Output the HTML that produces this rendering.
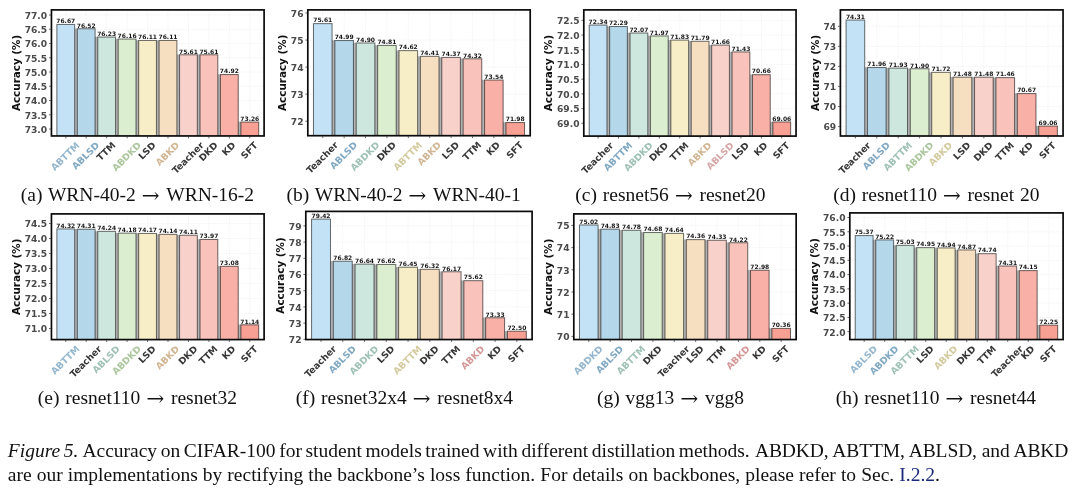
<!DOCTYPE html>
<html><head><meta charset="utf-8"><title>Figure 5</title>
<style>
html,body{margin:0;padding:0;background:#fff;}
body{width:1080px;height:489px;position:relative;overflow:hidden;font-family:"Liberation Serif","DejaVu Serif",serif;color:#111;}
svg{position:absolute;left:0;top:0;filter:blur(0.45px);}
.cap,.fc{filter:blur(0.3px);}
svg text{font-family:"DejaVu Sans","Liberation Sans",sans-serif;font-weight:bold;}
.yt text{font-size:9.15px;text-anchor:end;fill:#4a4a4a;}
.vl text{font-size:6.0px;text-anchor:middle;fill:#161616;}
.xt text{font-size:9.2px;text-anchor:middle;}
.yl{font-size:10.4px;text-anchor:middle;fill:#111;}
.cap{position:absolute;font-size:19.5px;line-height:24px;white-space:nowrap;word-spacing:0.9px;}
.ar{font-family:"DejaVu Math TeX Gyre","DejaVu Serif",serif;display:inline-block;width:30.6px;word-spacing:0;text-align:center;font-size:19px;}
.fc{position:absolute;left:7.8px;white-space:nowrap;font-size:19.5px;line-height:24px;}
.fc i{font-style:italic;}
.fc a{color:#1a2a7a;text-decoration:none;}
</style></head><body>
<svg width="1080" height="489" viewBox="0 0 1080 489">
<g>
<clipPath id="cla"><rect x="51.45" y="9.9" width="212.65" height="126.05"/></clipPath>
<path d="M51.45 129H264.1M51.45 114.75H264.1M51.45 100.5H264.1M51.45 86.25H264.1M51.45 72H264.1M51.45 57.75H264.1M51.45 43.5H264.1M51.45 29.25H264.1M51.45 15H264.1M65.76 9.9V135.95M86.21 9.9V135.95M106.66 9.9V135.95M127.1 9.9V135.95M147.55 9.9V135.95M168 9.9V135.95M188.45 9.9V135.95M208.89 9.9V135.95M229.34 9.9V135.95M249.79 9.9V135.95" stroke="#b0b0b0" stroke-opacity="0.24" stroke-width="0.7" stroke-dasharray="1.2 1.2" fill="none"/>
<g clip-path="url(#cla)">
<path d="M74.46 28.54h3.06V140.95h-3.06zM94.9 36.84h3.06V140.95h-3.06zM115.35 38.84h3.06V140.95h-3.06zM135.8 40.27h3.06V140.95h-3.06zM156.25 40.27h3.06V140.95h-3.06zM176.69 54.58h3.06V140.95h-3.06zM197.14 54.58h3.06V140.95h-3.06zM217.59 74.33h3.06V140.95h-3.06zM238.03 121.84h3.06V140.95h-3.06z" fill="#b2b2b2"/>
<g stroke="#000" stroke-opacity="0.55" stroke-width="1.05">
<rect x="56.87" y="24.44" width="17.79" height="116.51" fill="#c4e2f5"/>
<rect x="77.32" y="28.74" width="17.79" height="112.21" fill="#b4d7ea"/>
<rect x="97.76" y="37.04" width="17.79" height="103.91" fill="#cde7de"/>
<rect x="118.21" y="39.04" width="17.79" height="101.91" fill="#dbefd0"/>
<rect x="138.66" y="40.47" width="17.79" height="100.48" fill="#f7eec8"/>
<rect x="159.1" y="40.47" width="17.79" height="100.48" fill="#f6dec0"/>
<rect x="179.55" y="54.78" width="17.79" height="86.17" fill="#f9d1cb"/>
<rect x="200" y="54.78" width="17.79" height="86.17" fill="#f9c2bb"/>
<rect x="220.45" y="74.53" width="17.79" height="66.42" fill="#f8b0a7"/>
<rect x="240.89" y="122.04" width="17.79" height="18.91" fill="#f7a093"/>
</g></g>
<path d="M50.75 129h-1.7M50.75 114.75h-1.7M50.75 100.5h-1.7M50.75 86.25h-1.7M50.75 72h-1.7M50.75 57.75h-1.7M50.75 43.5h-1.7M50.75 29.25h-1.7M50.75 15h-1.7M65.76 136.65v1.7M86.21 136.65v1.7M106.66 136.65v1.7M127.1 136.65v1.7M147.55 136.65v1.7M168 136.65v1.7M188.45 136.65v1.7M208.89 136.65v1.7M229.34 136.65v1.7M249.79 136.65v1.7" stroke="#444" stroke-width="0.8" fill="none"/>
<rect x="51.45" y="9.9" width="212.65" height="126.05" fill="none" stroke="#0a0a0a" stroke-width="1.7"/>
<g class="yt">
<text x="47.15" y="132.84">73.0</text>
<text x="47.15" y="118.59">73.5</text>
<text x="47.15" y="104.34">74.0</text>
<text x="47.15" y="90.09">74.5</text>
<text x="47.15" y="75.84">75.0</text>
<text x="47.15" y="61.59">75.5</text>
<text x="47.15" y="47.34">76.0</text>
<text x="47.15" y="33.09">76.5</text>
<text x="47.15" y="18.84">77.0</text>
</g>
<g class="vl">
<text x="65.76" y="23.24">76.67</text>
<text x="86.21" y="27.54">76.52</text>
<text x="106.66" y="35.84">76.23</text>
<text x="127.1" y="37.84">76.16</text>
<text x="147.55" y="39.27">76.11</text>
<text x="168" y="39.27">76.11</text>
<text x="188.45" y="53.58">75.61</text>
<text x="208.89" y="53.58">75.61</text>
<text x="229.34" y="73.33">74.92</text>
<text x="249.79" y="120.84">73.26</text>
</g>
<g class="xt">
<text transform="translate(65.76 156.95) rotate(-45)" y="2.39" fill="#95b7ce">ABTTM</text>
<text transform="translate(86.21 156.31) rotate(-45)" y="2.39" fill="#82a9c3">ABLSD</text>
<text transform="translate(106.66 151.95) rotate(-45)" y="2.39" fill="#383838">TTM</text>
<text transform="translate(127.1 157.12) rotate(-45)" y="2.39" fill="#acc79e">ABDKD</text>
<text transform="translate(147.55 151.32) rotate(-45)" y="2.39" fill="#383838">LSD</text>
<text transform="translate(168 154.42) rotate(-45)" y="2.39" fill="#d1b694">ABKD</text>
<text transform="translate(188.45 158.44) rotate(-45)" y="2.39" fill="#383838">Teacher</text>
<text transform="translate(208.89 152.12) rotate(-45)" y="2.39" fill="#383838">DKD</text>
<text transform="translate(229.34 149.42) rotate(-45)" y="2.39" fill="#383838">KD</text>
<text transform="translate(249.79 150.99) rotate(-45)" y="2.39" fill="#383838">SFT</text>
</g>
<text class="yl" transform="translate(20 72.92) rotate(-90)">Accuracy (%)</text>
</g>
<g>
<clipPath id="clb"><rect x="307.8" y="9.9" width="222.4" height="125.8"/></clipPath>
<path d="M307.8 121.2H530.2M307.8 94.15H530.2M307.8 67.1H530.2M307.8 40.05H530.2M307.8 13H530.2M322.77 9.9V135.7M344.15 9.9V135.7M365.54 9.9V135.7M386.92 9.9V135.7M408.31 9.9V135.7M429.69 9.9V135.7M451.08 9.9V135.7M472.46 9.9V135.7M493.85 9.9V135.7M515.23 9.9V135.7" stroke="#b0b0b0" stroke-opacity="0.24" stroke-width="0.7" stroke-dasharray="1.2 1.2" fill="none"/>
<g clip-path="url(#clb)">
<path d="M331.87 40.32h3.18V140.7h-3.18zM353.26 42.77h3.18V140.7h-3.18zM374.64 45.23h3.18V140.7h-3.18zM396.03 50.4h3.18V140.7h-3.18zM417.41 56.13h3.18V140.7h-3.18zM438.79 57.22h3.18V140.7h-3.18zM460.18 58.58h3.18V140.7h-3.18zM481.56 79.83h3.18V140.7h-3.18zM502.95 122.34h3.18V140.7h-3.18z" fill="#b2b2b2"/>
<g stroke="#000" stroke-opacity="0.55" stroke-width="1.05">
<rect x="313.47" y="23.63" width="18.6" height="117.07" fill="#c4e2f5"/>
<rect x="334.85" y="40.52" width="18.6" height="100.18" fill="#b4d7ea"/>
<rect x="356.24" y="42.97" width="18.6" height="97.73" fill="#cde7de"/>
<rect x="377.62" y="45.43" width="18.6" height="95.27" fill="#dbefd0"/>
<rect x="399.01" y="50.6" width="18.6" height="90.1" fill="#f7eec8"/>
<rect x="420.39" y="56.33" width="18.6" height="84.37" fill="#f6dec0"/>
<rect x="441.77" y="57.42" width="18.6" height="83.28" fill="#f9d1cb"/>
<rect x="463.16" y="58.78" width="18.6" height="81.92" fill="#f9c2bb"/>
<rect x="484.54" y="80.03" width="18.6" height="60.67" fill="#f8b0a7"/>
<rect x="505.93" y="122.54" width="18.6" height="18.16" fill="#f7a093"/>
</g></g>
<path d="M307.1 121.2h-1.7M307.1 94.15h-1.7M307.1 67.1h-1.7M307.1 40.05h-1.7M307.1 13h-1.7M322.77 136.4v1.7M344.15 136.4v1.7M365.54 136.4v1.7M386.92 136.4v1.7M408.31 136.4v1.7M429.69 136.4v1.7M451.08 136.4v1.7M472.46 136.4v1.7M493.85 136.4v1.7M515.23 136.4v1.7" stroke="#444" stroke-width="0.8" fill="none"/>
<rect x="307.8" y="9.9" width="222.4" height="125.8" fill="none" stroke="#0a0a0a" stroke-width="1.7"/>
<g class="yt">
<text x="303.5" y="125.04">72</text>
<text x="303.5" y="97.99">73</text>
<text x="303.5" y="70.94">74</text>
<text x="303.5" y="43.89">75</text>
<text x="303.5" y="16.84">76</text>
</g>
<g class="vl">
<text x="322.77" y="22.43">75.61</text>
<text x="344.15" y="39.32">74.99</text>
<text x="365.54" y="41.77">74.90</text>
<text x="386.92" y="44.23">74.81</text>
<text x="408.31" y="49.4">74.62</text>
<text x="429.69" y="55.13">74.41</text>
<text x="451.08" y="56.22">74.37</text>
<text x="472.46" y="57.58">74.32</text>
<text x="493.85" y="78.83">73.54</text>
<text x="515.23" y="121.34">71.98</text>
</g>
<g class="xt">
<text transform="translate(322.77 158.19) rotate(-45)" y="2.39" fill="#383838">Teacher</text>
<text transform="translate(344.15 156.06) rotate(-45)" y="2.39" fill="#82a9c3">ABLSD</text>
<text transform="translate(365.54 156.87) rotate(-45)" y="2.39" fill="#a0c1b5">ABDKD</text>
<text transform="translate(386.92 151.87) rotate(-45)" y="2.39" fill="#383838">DKD</text>
<text transform="translate(408.31 156.7) rotate(-45)" y="2.39" fill="#d3ca9f">ABTTM</text>
<text transform="translate(429.69 154.17) rotate(-45)" y="2.39" fill="#d1b694">ABKD</text>
<text transform="translate(451.08 151.07) rotate(-45)" y="2.39" fill="#383838">LSD</text>
<text transform="translate(472.46 151.7) rotate(-45)" y="2.39" fill="#383838">TTM</text>
<text transform="translate(493.85 149.17) rotate(-45)" y="2.39" fill="#383838">KD</text>
<text transform="translate(515.23 150.74) rotate(-45)" y="2.39" fill="#383838">SFT</text>
</g>
<text class="yl" transform="translate(286.2 72.8) rotate(-90)">Accuracy (%)</text>
</g>
<g>
<clipPath id="clc"><rect x="583.8" y="9.9" width="212.25" height="126.2"/></clipPath>
<path d="M583.8 123.3H796.05M583.8 108.59H796.05M583.8 93.88H796.05M583.8 79.16H796.05M583.8 64.44H796.05M583.8 49.73H796.05M583.8 35.02H796.05M583.8 20.3H796.05M598.09 9.9V136.1M618.49 9.9V136.1M638.9 9.9V136.1M659.31 9.9V136.1M679.72 9.9V136.1M700.13 9.9V136.1M720.54 9.9V136.1M740.95 9.9V136.1M761.36 9.9V136.1M781.76 9.9V136.1" stroke="#b0b0b0" stroke-opacity="0.24" stroke-width="0.7" stroke-dasharray="1.2 1.2" fill="none"/>
<g clip-path="url(#clc)">
<path d="M606.76 26.31h3.05V141.1h-3.05zM627.17 32.81h3.05V141.1h-3.05zM647.58 35.76h3.05V141.1h-3.05zM667.99 39.9h3.05V141.1h-3.05zM688.4 41.08h3.05V141.1h-3.05zM708.81 44.92h3.05V141.1h-3.05zM729.22 51.72h3.05V141.1h-3.05zM749.62 74.47h3.05V141.1h-3.05zM770.03 121.75h3.05V141.1h-3.05z" fill="#b2b2b2"/>
<g stroke="#000" stroke-opacity="0.55" stroke-width="1.05">
<rect x="589.21" y="25.03" width="17.76" height="116.07" fill="#c4e2f5"/>
<rect x="609.62" y="26.51" width="17.76" height="114.59" fill="#b4d7ea"/>
<rect x="630.03" y="33.01" width="17.76" height="108.09" fill="#cde7de"/>
<rect x="650.43" y="35.96" width="17.76" height="105.14" fill="#dbefd0"/>
<rect x="670.84" y="40.1" width="17.76" height="101" fill="#f7eec8"/>
<rect x="691.25" y="41.28" width="17.76" height="99.82" fill="#f6dec0"/>
<rect x="711.66" y="45.12" width="17.76" height="95.98" fill="#f9d1cb"/>
<rect x="732.07" y="51.92" width="17.76" height="89.18" fill="#f9c2bb"/>
<rect x="752.48" y="74.67" width="17.76" height="66.43" fill="#f8b0a7"/>
<rect x="772.89" y="121.95" width="17.76" height="19.15" fill="#f7a093"/>
</g></g>
<path d="M583.1 123.3h-1.7M583.1 108.59h-1.7M583.1 93.88h-1.7M583.1 79.16h-1.7M583.1 64.44h-1.7M583.1 49.73h-1.7M583.1 35.02h-1.7M583.1 20.3h-1.7M598.09 136.8v1.7M618.49 136.8v1.7M638.9 136.8v1.7M659.31 136.8v1.7M679.72 136.8v1.7M700.13 136.8v1.7M720.54 136.8v1.7M740.95 136.8v1.7M761.36 136.8v1.7M781.76 136.8v1.7" stroke="#444" stroke-width="0.8" fill="none"/>
<rect x="583.8" y="9.9" width="212.25" height="126.2" fill="none" stroke="#0a0a0a" stroke-width="1.7"/>
<g class="yt">
<text x="579.5" y="127.14">69.0</text>
<text x="579.5" y="112.43">69.5</text>
<text x="579.5" y="97.71">70.0</text>
<text x="579.5" y="83">70.5</text>
<text x="579.5" y="68.28">71.0</text>
<text x="579.5" y="53.57">71.5</text>
<text x="579.5" y="38.85">72.0</text>
<text x="579.5" y="24.14">72.5</text>
</g>
<g class="vl">
<text x="598.09" y="23.83">72.34</text>
<text x="618.49" y="25.31">72.29</text>
<text x="638.9" y="31.81">72.07</text>
<text x="659.31" y="34.76">71.97</text>
<text x="679.72" y="38.9">71.83</text>
<text x="700.13" y="40.08">71.79</text>
<text x="720.54" y="43.92">71.66</text>
<text x="740.95" y="50.72">71.43</text>
<text x="761.36" y="73.47">70.66</text>
<text x="781.76" y="120.75">69.06</text>
</g>
<g class="xt">
<text transform="translate(598.09 158.59) rotate(-45)" y="2.39" fill="#383838">Teacher</text>
<text transform="translate(618.49 157.1) rotate(-45)" y="2.39" fill="#82a9c3">ABTTM</text>
<text transform="translate(638.9 157.27) rotate(-45)" y="2.39" fill="#a0c1b5">ABDKD</text>
<text transform="translate(659.31 152.27) rotate(-45)" y="2.39" fill="#383838">DKD</text>
<text transform="translate(679.72 152.1) rotate(-45)" y="2.39" fill="#383838">TTM</text>
<text transform="translate(700.13 154.57) rotate(-45)" y="2.39" fill="#d1b694">ABKD</text>
<text transform="translate(720.54 156.46) rotate(-45)" y="2.39" fill="#d7a6a6">ABLSD</text>
<text transform="translate(740.95 151.47) rotate(-45)" y="2.39" fill="#383838">LSD</text>
<text transform="translate(761.36 149.57) rotate(-45)" y="2.39" fill="#383838">KD</text>
<text transform="translate(781.76 151.14) rotate(-45)" y="2.39" fill="#383838">SFT</text>
</g>
<text class="yl" transform="translate(551.7 73) rotate(-90)">Accuracy (%)</text>
</g>
<g>
<clipPath id="cld"><rect x="840.4" y="9.9" width="222.65" height="126.1"/></clipPath>
<path d="M840.4 126.55H1063.05M840.4 106.5H1063.05M840.4 86.45H1063.05M840.4 66.4H1063.05M840.4 46.35H1063.05M840.4 26.3H1063.05M855.39 9.9V136M876.79 9.9V136M898.2 9.9V136M919.61 9.9V136M941.02 9.9V136M962.43 9.9V136M983.84 9.9V136M1005.25 9.9V136M1026.66 9.9V136M1048.06 9.9V136" stroke="#b0b0b0" stroke-opacity="0.24" stroke-width="0.7" stroke-dasharray="1.2 1.2" fill="none"/>
<g clip-path="url(#cld)">
<path d="M864.5 67.31h3.18V141h-3.18zM885.91 67.91h3.18V141h-3.18zM907.32 68.52h3.18V141h-3.18zM928.72 72.16h3.18V141h-3.18zM950.13 77h3.18V141h-3.18zM971.54 77h3.18V141h-3.18zM992.95 77.41h3.18V141h-3.18zM1014.36 93.37h3.18V141h-3.18zM1035.77 125.89h3.18V141h-3.18z" fill="#b2b2b2"/>
<g stroke="#000" stroke-opacity="0.55" stroke-width="1.05">
<rect x="846.07" y="20.04" width="18.63" height="120.96" fill="#c4e2f5"/>
<rect x="867.48" y="67.51" width="18.63" height="73.49" fill="#b4d7ea"/>
<rect x="888.89" y="68.11" width="18.63" height="72.89" fill="#cde7de"/>
<rect x="910.3" y="68.72" width="18.63" height="72.28" fill="#dbefd0"/>
<rect x="931.71" y="72.36" width="18.63" height="68.64" fill="#f7eec8"/>
<rect x="953.12" y="77.2" width="18.63" height="63.8" fill="#f6dec0"/>
<rect x="974.53" y="77.2" width="18.63" height="63.8" fill="#f9d1cb"/>
<rect x="995.93" y="77.61" width="18.63" height="63.39" fill="#f9c2bb"/>
<rect x="1017.34" y="93.57" width="18.63" height="47.43" fill="#f8b0a7"/>
<rect x="1038.75" y="126.09" width="18.63" height="14.91" fill="#f7a093"/>
</g></g>
<path d="M839.7 126.55h-1.7M839.7 106.5h-1.7M839.7 86.45h-1.7M839.7 66.4h-1.7M839.7 46.35h-1.7M839.7 26.3h-1.7M855.39 136.7v1.7M876.79 136.7v1.7M898.2 136.7v1.7M919.61 136.7v1.7M941.02 136.7v1.7M962.43 136.7v1.7M983.84 136.7v1.7M1005.25 136.7v1.7M1026.66 136.7v1.7M1048.06 136.7v1.7" stroke="#444" stroke-width="0.8" fill="none"/>
<rect x="840.4" y="9.9" width="222.65" height="126.1" fill="none" stroke="#0a0a0a" stroke-width="1.7"/>
<g class="yt">
<text x="836.1" y="130.39">69</text>
<text x="836.1" y="110.34">70</text>
<text x="836.1" y="90.29">71</text>
<text x="836.1" y="70.24">72</text>
<text x="836.1" y="50.19">73</text>
<text x="836.1" y="30.14">74</text>
</g>
<g class="vl">
<text x="855.39" y="18.84">74.31</text>
<text x="876.79" y="66.31">71.96</text>
<text x="898.2" y="66.91">71.93</text>
<text x="919.61" y="67.52">71.90</text>
<text x="941.02" y="71.16">71.72</text>
<text x="962.43" y="76">71.48</text>
<text x="983.84" y="76">71.48</text>
<text x="1005.25" y="76.41">71.46</text>
<text x="1026.66" y="92.37">70.67</text>
<text x="1048.06" y="124.89">69.06</text>
</g>
<g class="xt">
<text transform="translate(855.39 158.49) rotate(-45)" y="2.39" fill="#383838">Teacher</text>
<text transform="translate(876.79 156.36) rotate(-45)" y="2.39" fill="#82a9c3">ABLSD</text>
<text transform="translate(898.2 157) rotate(-45)" y="2.39" fill="#a0c1b5">ABTTM</text>
<text transform="translate(919.61 157.17) rotate(-45)" y="2.39" fill="#acc79e">ABDKD</text>
<text transform="translate(941.02 154.47) rotate(-45)" y="2.39" fill="#d3ca9f">ABKD</text>
<text transform="translate(962.43 151.37) rotate(-45)" y="2.39" fill="#383838">LSD</text>
<text transform="translate(983.84 152.17) rotate(-45)" y="2.39" fill="#383838">DKD</text>
<text transform="translate(1005.25 152) rotate(-45)" y="2.39" fill="#383838">TTM</text>
<text transform="translate(1026.66 149.47) rotate(-45)" y="2.39" fill="#383838">KD</text>
<text transform="translate(1048.06 151.04) rotate(-45)" y="2.39" fill="#383838">SFT</text>
</g>
<text class="yl" transform="translate(818.8 72.95) rotate(-90)">Accuracy (%)</text>
</g>
<g>
<clipPath id="cle"><rect x="51.45" y="213.9" width="212.65" height="125.7"/></clipPath>
<path d="M51.45 328.5H264.1M51.45 313.5H264.1M51.45 298.5H264.1M51.45 283.5H264.1M51.45 268.5H264.1M51.45 253.5H264.1M51.45 238.5H264.1M51.45 223.5H264.1M65.76 213.9V339.6M86.21 213.9V339.6M106.66 213.9V339.6M127.1 213.9V339.6M147.55 213.9V339.6M168 213.9V339.6M188.45 213.9V339.6M208.89 213.9V339.6M229.34 213.9V339.6M249.79 213.9V339.6" stroke="#b0b0b0" stroke-opacity="0.24" stroke-width="0.7" stroke-dasharray="1.2 1.2" fill="none"/>
<g clip-path="url(#cle)">
<path d="M74.46 229.03h3.06V344.6h-3.06zM94.9 231.14h3.06V344.6h-3.06zM115.35 232.95h3.06V344.6h-3.06zM135.8 233.25h3.06V344.6h-3.06zM156.25 234.15h3.06V344.6h-3.06zM176.69 235.06h3.06V344.6h-3.06zM197.14 239.28h3.06V344.6h-3.06zM217.59 266.11h3.06V344.6h-3.06zM238.03 324.6h3.06V344.6h-3.06z" fill="#b2b2b2"/>
<g stroke="#000" stroke-opacity="0.55" stroke-width="1.05">
<rect x="56.87" y="228.93" width="17.79" height="115.67" fill="#c4e2f5"/>
<rect x="77.32" y="229.23" width="17.79" height="115.37" fill="#b4d7ea"/>
<rect x="97.76" y="231.34" width="17.79" height="113.26" fill="#cde7de"/>
<rect x="118.21" y="233.15" width="17.79" height="111.45" fill="#dbefd0"/>
<rect x="138.66" y="233.45" width="17.79" height="111.15" fill="#f7eec8"/>
<rect x="159.1" y="234.35" width="17.79" height="110.25" fill="#f6dec0"/>
<rect x="179.55" y="235.26" width="17.79" height="109.34" fill="#f9d1cb"/>
<rect x="200" y="239.48" width="17.79" height="105.12" fill="#f9c2bb"/>
<rect x="220.45" y="266.31" width="17.79" height="78.29" fill="#f8b0a7"/>
<rect x="240.89" y="324.8" width="17.79" height="19.8" fill="#f7a093"/>
</g></g>
<path d="M50.75 328.5h-1.7M50.75 313.5h-1.7M50.75 298.5h-1.7M50.75 283.5h-1.7M50.75 268.5h-1.7M50.75 253.5h-1.7M50.75 238.5h-1.7M50.75 223.5h-1.7M65.76 340.3v1.7M86.21 340.3v1.7M106.66 340.3v1.7M127.1 340.3v1.7M147.55 340.3v1.7M168 340.3v1.7M188.45 340.3v1.7M208.89 340.3v1.7M229.34 340.3v1.7M249.79 340.3v1.7" stroke="#444" stroke-width="0.8" fill="none"/>
<rect x="51.45" y="213.9" width="212.65" height="125.7" fill="none" stroke="#0a0a0a" stroke-width="1.7"/>
<g class="yt">
<text x="47.15" y="332.34">71.0</text>
<text x="47.15" y="317.34">71.5</text>
<text x="47.15" y="302.34">72.0</text>
<text x="47.15" y="287.34">72.5</text>
<text x="47.15" y="272.34">73.0</text>
<text x="47.15" y="257.34">73.5</text>
<text x="47.15" y="242.34">74.0</text>
<text x="47.15" y="227.34">74.5</text>
</g>
<g class="vl">
<text x="65.76" y="227.73">74.32</text>
<text x="86.21" y="228.03">74.31</text>
<text x="106.66" y="230.14">74.24</text>
<text x="127.1" y="231.95">74.18</text>
<text x="147.55" y="232.25">74.17</text>
<text x="168" y="233.15">74.14</text>
<text x="188.45" y="234.06">74.11</text>
<text x="208.89" y="238.28">73.97</text>
<text x="229.34" y="265.11">73.08</text>
<text x="249.79" y="323.6">71.14</text>
</g>
<g class="xt">
<text transform="translate(65.76 360.6) rotate(-45)" y="2.39" fill="#95b7ce">ABTTM</text>
<text transform="translate(86.21 362.09) rotate(-45)" y="2.39" fill="#383838">Teacher</text>
<text transform="translate(106.66 359.96) rotate(-45)" y="2.39" fill="#a0c1b5">ABLSD</text>
<text transform="translate(127.1 360.77) rotate(-45)" y="2.39" fill="#acc79e">ABDKD</text>
<text transform="translate(147.55 354.97) rotate(-45)" y="2.39" fill="#383838">LSD</text>
<text transform="translate(168 358.07) rotate(-45)" y="2.39" fill="#d1b694">ABKD</text>
<text transform="translate(188.45 355.77) rotate(-45)" y="2.39" fill="#383838">DKD</text>
<text transform="translate(208.89 355.6) rotate(-45)" y="2.39" fill="#383838">TTM</text>
<text transform="translate(229.34 353.07) rotate(-45)" y="2.39" fill="#383838">KD</text>
<text transform="translate(249.79 354.64) rotate(-45)" y="2.39" fill="#383838">SFT</text>
</g>
<text class="yl" transform="translate(20 276.75) rotate(-90)">Accuracy (%)</text>
</g>
<g>
<clipPath id="clf"><rect x="305.8" y="211.4" width="226.3" height="128.15"/></clipPath>
<path d="M305.8 323.1H532.1M305.8 306.9H532.1M305.8 290.7H532.1M305.8 274.5H532.1M305.8 258.3H532.1M305.8 242.1H532.1M305.8 225.9H532.1M321.03 211.4V339.55M342.79 211.4V339.55M364.55 211.4V339.55M386.31 211.4V339.55M408.07 211.4V339.55M429.83 211.4V339.55M451.59 211.4V339.55M473.35 211.4V339.55M495.11 211.4V339.55M516.87 211.4V339.55" stroke="#b0b0b0" stroke-opacity="0.24" stroke-width="0.7" stroke-dasharray="1.2 1.2" fill="none"/>
<g clip-path="url(#clf)">
<path d="M330.3 261.02h3.23V344.55h-3.23zM352.06 263.93h3.23V344.55h-3.23zM373.82 264.26h3.23V344.55h-3.23zM395.58 267.01h3.23V344.55h-3.23zM417.34 269.12h3.23V344.55h-3.23zM439.1 271.55h3.23V344.55h-3.23zM460.85 280.46h3.23V344.55h-3.23zM482.61 317.55h3.23V344.55h-3.23zM504.37 331h3.23V344.55h-3.23z" fill="#b2b2b2"/>
<g stroke="#000" stroke-opacity="0.55" stroke-width="1.05">
<rect x="311.57" y="219.1" width="18.93" height="125.45" fill="#c4e2f5"/>
<rect x="333.33" y="261.22" width="18.93" height="83.33" fill="#b4d7ea"/>
<rect x="355.09" y="264.13" width="18.93" height="80.42" fill="#cde7de"/>
<rect x="376.85" y="264.46" width="18.93" height="80.09" fill="#dbefd0"/>
<rect x="398.6" y="267.21" width="18.93" height="77.34" fill="#f7eec8"/>
<rect x="420.36" y="269.32" width="18.93" height="75.23" fill="#f6dec0"/>
<rect x="442.12" y="271.75" width="18.93" height="72.8" fill="#f9d1cb"/>
<rect x="463.88" y="280.66" width="18.93" height="63.89" fill="#f9c2bb"/>
<rect x="485.64" y="317.75" width="18.93" height="26.8" fill="#f8b0a7"/>
<rect x="507.4" y="331.2" width="18.93" height="13.35" fill="#f7a093"/>
</g></g>
<path d="M305.1 339.3h-1.7M305.1 323.1h-1.7M305.1 306.9h-1.7M305.1 290.7h-1.7M305.1 274.5h-1.7M305.1 258.3h-1.7M305.1 242.1h-1.7M305.1 225.9h-1.7M321.03 340.25v1.7M342.79 340.25v1.7M364.55 340.25v1.7M386.31 340.25v1.7M408.07 340.25v1.7M429.83 340.25v1.7M451.59 340.25v1.7M473.35 340.25v1.7M495.11 340.25v1.7M516.87 340.25v1.7" stroke="#444" stroke-width="0.8" fill="none"/>
<rect x="305.8" y="211.4" width="226.3" height="128.15" fill="none" stroke="#0a0a0a" stroke-width="1.7"/>
<g class="yt">
<text x="301.5" y="343.14">72</text>
<text x="301.5" y="326.94">73</text>
<text x="301.5" y="310.74">74</text>
<text x="301.5" y="294.54">75</text>
<text x="301.5" y="278.34">76</text>
<text x="301.5" y="262.14">77</text>
<text x="301.5" y="245.94">78</text>
<text x="301.5" y="229.74">79</text>
</g>
<g class="vl">
<text x="321.03" y="217.9">79.42</text>
<text x="342.79" y="260.02">76.82</text>
<text x="364.55" y="262.93">76.64</text>
<text x="386.31" y="263.26">76.62</text>
<text x="408.07" y="266.01">76.45</text>
<text x="429.83" y="268.12">76.32</text>
<text x="451.59" y="270.55">76.17</text>
<text x="473.35" y="279.46">75.62</text>
<text x="495.11" y="316.55">73.33</text>
<text x="516.87" y="330">72.50</text>
</g>
<g class="xt">
<text transform="translate(321.03 362.04) rotate(-45)" y="2.39" fill="#383838">Teacher</text>
<text transform="translate(342.79 359.91) rotate(-45)" y="2.39" fill="#82a9c3">ABLSD</text>
<text transform="translate(364.55 360.72) rotate(-45)" y="2.39" fill="#a0c1b5">ABDKD</text>
<text transform="translate(386.31 354.92) rotate(-45)" y="2.39" fill="#383838">LSD</text>
<text transform="translate(408.07 360.55) rotate(-45)" y="2.39" fill="#d3ca9f">ABTTM</text>
<text transform="translate(429.83 355.72) rotate(-45)" y="2.39" fill="#383838">DKD</text>
<text transform="translate(451.59 355.55) rotate(-45)" y="2.39" fill="#383838">TTM</text>
<text transform="translate(473.35 358.02) rotate(-45)" y="2.39" fill="#d59898">ABKD</text>
<text transform="translate(495.11 353.02) rotate(-45)" y="2.39" fill="#383838">KD</text>
<text transform="translate(516.87 354.59) rotate(-45)" y="2.39" fill="#383838">SFT</text>
</g>
<text class="yl" transform="translate(283.8 275.48) rotate(-90)">Accuracy (%)</text>
</g>
<g>
<clipPath id="clg"><rect x="573.8" y="213.9" width="222.35" height="125.65"/></clipPath>
<path d="M573.8 336.4H796.15M573.8 314.2H796.15M573.8 292H796.15M573.8 269.8H796.15M573.8 247.6H796.15M573.8 225.4H796.15M588.77 213.9V339.55M610.15 213.9V339.55M631.53 213.9V339.55M652.91 213.9V339.55M674.29 213.9V339.55M695.66 213.9V339.55M717.04 213.9V339.55M738.42 213.9V339.55M759.8 213.9V339.55M781.18 213.9V339.55" stroke="#b0b0b0" stroke-opacity="0.24" stroke-width="0.7" stroke-dasharray="1.2 1.2" fill="none"/>
<g clip-path="url(#clg)">
<path d="M597.87 228.97h3.18V344.55h-3.18zM619.25 230.08h3.18V344.55h-3.18zM640.63 232.3h3.18V344.55h-3.18zM662.01 233.19h3.18V344.55h-3.18zM683.39 239.41h3.18V344.55h-3.18zM704.77 240.07h3.18V344.55h-3.18zM726.14 242.52h3.18V344.55h-3.18zM747.52 270.04h3.18V344.55h-3.18zM768.9 328.21h3.18V344.55h-3.18z" fill="#b2b2b2"/>
<g stroke="#000" stroke-opacity="0.55" stroke-width="1.05">
<rect x="579.47" y="224.96" width="18.6" height="119.59" fill="#c4e2f5"/>
<rect x="600.85" y="229.17" width="18.6" height="115.38" fill="#b4d7ea"/>
<rect x="622.23" y="230.28" width="18.6" height="114.27" fill="#cde7de"/>
<rect x="643.61" y="232.5" width="18.6" height="112.05" fill="#dbefd0"/>
<rect x="664.98" y="233.39" width="18.6" height="111.16" fill="#f7eec8"/>
<rect x="686.36" y="239.61" width="18.6" height="104.94" fill="#f6dec0"/>
<rect x="707.74" y="240.27" width="18.6" height="104.28" fill="#f9d1cb"/>
<rect x="729.12" y="242.72" width="18.6" height="101.83" fill="#f9c2bb"/>
<rect x="750.5" y="270.24" width="18.6" height="74.31" fill="#f8b0a7"/>
<rect x="771.88" y="328.41" width="18.6" height="16.14" fill="#f7a093"/>
</g></g>
<path d="M573.1 336.4h-1.7M573.1 314.2h-1.7M573.1 292h-1.7M573.1 269.8h-1.7M573.1 247.6h-1.7M573.1 225.4h-1.7M588.77 340.25v1.7M610.15 340.25v1.7M631.53 340.25v1.7M652.91 340.25v1.7M674.29 340.25v1.7M695.66 340.25v1.7M717.04 340.25v1.7M738.42 340.25v1.7M759.8 340.25v1.7M781.18 340.25v1.7" stroke="#444" stroke-width="0.8" fill="none"/>
<rect x="573.8" y="213.9" width="222.35" height="125.65" fill="none" stroke="#0a0a0a" stroke-width="1.7"/>
<g class="yt">
<text x="569.5" y="340.24">70</text>
<text x="569.5" y="318.04">71</text>
<text x="569.5" y="295.84">72</text>
<text x="569.5" y="273.64">73</text>
<text x="569.5" y="251.44">74</text>
<text x="569.5" y="229.24">75</text>
</g>
<g class="vl">
<text x="588.77" y="223.76">75.02</text>
<text x="610.15" y="227.97">74.83</text>
<text x="631.53" y="229.08">74.78</text>
<text x="652.91" y="231.3">74.68</text>
<text x="674.29" y="232.19">74.64</text>
<text x="695.66" y="238.41">74.36</text>
<text x="717.04" y="239.07">74.33</text>
<text x="738.42" y="241.52">74.22</text>
<text x="759.8" y="269.04">72.98</text>
<text x="781.18" y="327.21">70.36</text>
</g>
<g class="xt">
<text transform="translate(588.77 360.72) rotate(-45)" y="2.39" fill="#95b7ce">ABDKD</text>
<text transform="translate(610.15 359.91) rotate(-45)" y="2.39" fill="#82a9c3">ABLSD</text>
<text transform="translate(631.53 360.55) rotate(-45)" y="2.39" fill="#a0c1b5">ABTTM</text>
<text transform="translate(652.91 355.72) rotate(-45)" y="2.39" fill="#383838">DKD</text>
<text transform="translate(674.29 362.04) rotate(-45)" y="2.39" fill="#383838">Teacher</text>
<text transform="translate(695.66 354.92) rotate(-45)" y="2.39" fill="#383838">LSD</text>
<text transform="translate(717.04 355.55) rotate(-45)" y="2.39" fill="#383838">TTM</text>
<text transform="translate(738.42 358.02) rotate(-45)" y="2.39" fill="#d59898">ABKD</text>
<text transform="translate(759.8 353.02) rotate(-45)" y="2.39" fill="#383838">KD</text>
<text transform="translate(781.18 354.59) rotate(-45)" y="2.39" fill="#383838">SFT</text>
</g>
<text class="yl" transform="translate(552.4 276.73) rotate(-90)">Accuracy (%)</text>
</g>
<g>
<clipPath id="clh"><rect x="849.8" y="212.9" width="213.3" height="126.65"/></clipPath>
<path d="M849.8 331.7H1063.1M849.8 317.43H1063.1M849.8 303.15H1063.1M849.8 288.88H1063.1M849.8 274.6H1063.1M849.8 260.32H1063.1M849.8 246.05H1063.1M849.8 231.78H1063.1M849.8 217.5H1063.1M864.16 212.9V339.55M884.67 212.9V339.55M905.18 212.9V339.55M925.69 212.9V339.55M946.2 212.9V339.55M966.7 212.9V339.55M987.21 212.9V339.55M1007.72 212.9V339.55M1028.23 212.9V339.55M1048.74 212.9V339.55" stroke="#b0b0b0" stroke-opacity="0.24" stroke-width="0.7" stroke-dasharray="1.2 1.2" fill="none"/>
<g clip-path="url(#clh)">
<path d="M872.88 239.69h3.07V344.55h-3.07zM893.39 245.14h3.07V344.55h-3.07zM913.9 247.43h3.07V344.55h-3.07zM934.41 247.72h3.07V344.55h-3.07zM954.92 249.73h3.07V344.55h-3.07zM975.43 253.46h3.07V344.55h-3.07zM995.94 265.8h3.07V344.55h-3.07zM1016.45 270.39h3.07V344.55h-3.07zM1036.96 324.93h3.07V344.55h-3.07z" fill="#b2b2b2"/>
<g stroke="#000" stroke-opacity="0.55" stroke-width="1.05">
<rect x="855.24" y="235.58" width="17.84" height="108.97" fill="#c4e2f5"/>
<rect x="875.74" y="239.89" width="17.84" height="104.66" fill="#b4d7ea"/>
<rect x="896.25" y="245.34" width="17.84" height="99.21" fill="#cde7de"/>
<rect x="916.76" y="247.63" width="17.84" height="96.92" fill="#dbefd0"/>
<rect x="937.27" y="247.92" width="17.84" height="96.63" fill="#f7eec8"/>
<rect x="957.78" y="249.93" width="17.84" height="94.62" fill="#f6dec0"/>
<rect x="978.29" y="253.66" width="17.84" height="90.89" fill="#f9d1cb"/>
<rect x="998.8" y="266" width="17.84" height="78.55" fill="#f9c2bb"/>
<rect x="1019.31" y="270.59" width="17.84" height="73.96" fill="#f8b0a7"/>
<rect x="1039.82" y="325.12" width="17.84" height="19.43" fill="#f7a093"/>
</g></g>
<path d="M849.1 331.7h-1.7M849.1 317.43h-1.7M849.1 303.15h-1.7M849.1 288.88h-1.7M849.1 274.6h-1.7M849.1 260.32h-1.7M849.1 246.05h-1.7M849.1 231.78h-1.7M849.1 217.5h-1.7M864.16 340.25v1.7M884.67 340.25v1.7M905.18 340.25v1.7M925.69 340.25v1.7M946.2 340.25v1.7M966.7 340.25v1.7M987.21 340.25v1.7M1007.72 340.25v1.7M1028.23 340.25v1.7M1048.74 340.25v1.7" stroke="#444" stroke-width="0.8" fill="none"/>
<rect x="849.8" y="212.9" width="213.3" height="126.65" fill="none" stroke="#0a0a0a" stroke-width="1.7"/>
<g class="yt">
<text x="845.5" y="335.54">72.0</text>
<text x="845.5" y="321.26">72.5</text>
<text x="845.5" y="306.99">73.0</text>
<text x="845.5" y="292.71">73.5</text>
<text x="845.5" y="278.44">74.0</text>
<text x="845.5" y="264.16">74.5</text>
<text x="845.5" y="249.89">75.0</text>
<text x="845.5" y="235.61">75.5</text>
<text x="845.5" y="221.34">76.0</text>
</g>
<g class="vl">
<text x="864.16" y="234.38">75.37</text>
<text x="884.67" y="238.69">75.22</text>
<text x="905.18" y="244.14">75.03</text>
<text x="925.69" y="246.43">74.95</text>
<text x="946.2" y="246.72">74.94</text>
<text x="966.7" y="248.73">74.87</text>
<text x="987.21" y="252.46">74.74</text>
<text x="1007.72" y="264.8">74.31</text>
<text x="1028.23" y="269.39">74.15</text>
<text x="1048.74" y="323.93">72.25</text>
</g>
<g class="xt">
<text transform="translate(864.16 359.91) rotate(-45)" y="2.39" fill="#95b7ce">ABLSD</text>
<text transform="translate(884.67 360.72) rotate(-45)" y="2.39" fill="#82a9c3">ABDKD</text>
<text transform="translate(905.18 360.55) rotate(-45)" y="2.39" fill="#a0c1b5">ABTTM</text>
<text transform="translate(925.69 354.92) rotate(-45)" y="2.39" fill="#383838">LSD</text>
<text transform="translate(946.2 358.02) rotate(-45)" y="2.39" fill="#d3ca9f">ABKD</text>
<text transform="translate(966.7 355.72) rotate(-45)" y="2.39" fill="#383838">DKD</text>
<text transform="translate(987.21 355.55) rotate(-45)" y="2.39" fill="#383838">TTM</text>
<text transform="translate(1007.72 362.04) rotate(-45)" y="2.39" fill="#383838">Teacher</text>
<text transform="translate(1028.23 353.02) rotate(-45)" y="2.39" fill="#383838">KD</text>
<text transform="translate(1048.74 354.59) rotate(-45)" y="2.39" fill="#383838">SFT</text>
</g>
<text class="yl" transform="translate(818.2 276.23) rotate(-90)">Accuracy (%)</text>
</g>
</svg>
<div class="cap" style="left:20.85px;top:182.88px">(a) WRN-40-2<span class="ar">→</span>WRN-16-2</div>
<div class="cap" style="left:286.6px;top:182.88px">(b) WRN-40-2<span class="ar">→</span>WRN-40-1</div>
<div class="cap" style="left:575.35px;top:182.88px">(c) resnet56<span class="ar">→</span>resnet20</div>
<div class="cap" style="left:833.35px;top:182.88px">(d) resnet110<span class="ar">→</span>resnet 20</div>
<div class="cap" style="left:37.85px;top:386.43px">(e) resnet110<span class="ar">→</span>resnet32</div>
<div class="cap" style="left:295.85px;top:386.43px">(f) resnet32x4<span class="ar">→</span>resnet8x4</div>
<div class="cap" style="left:597.1px;top:386.43px">(g) vgg13<span class="ar">→</span>vgg8</div>
<div class="cap" style="left:835.85px;top:386.43px">(h) resnet110<span class="ar">→</span>resnet44</div>
<div class="fc" id="l1" style="top:438.5px;word-spacing:-1.27px"><i>Figure 5.</i><span style="display:inline-block;width:1.5px"></span> Accuracy on CIFAR-100 for student models trained with different distillation methods.<span style="display:inline-block;width:1.6px"></span> <span style="word-spacing:0.1px;letter-spacing:-0.1px">ABDKD, ABTTM, ABLSD, and ABKD</span></div>
<div class="fc" id="l2" style="top:462.5px;word-spacing:0.2px">are our implementations by rectifying the backbone’s loss function. For details on backbones, please refer to Sec. <a>I.2.2</a>.</div>
</body></html>
